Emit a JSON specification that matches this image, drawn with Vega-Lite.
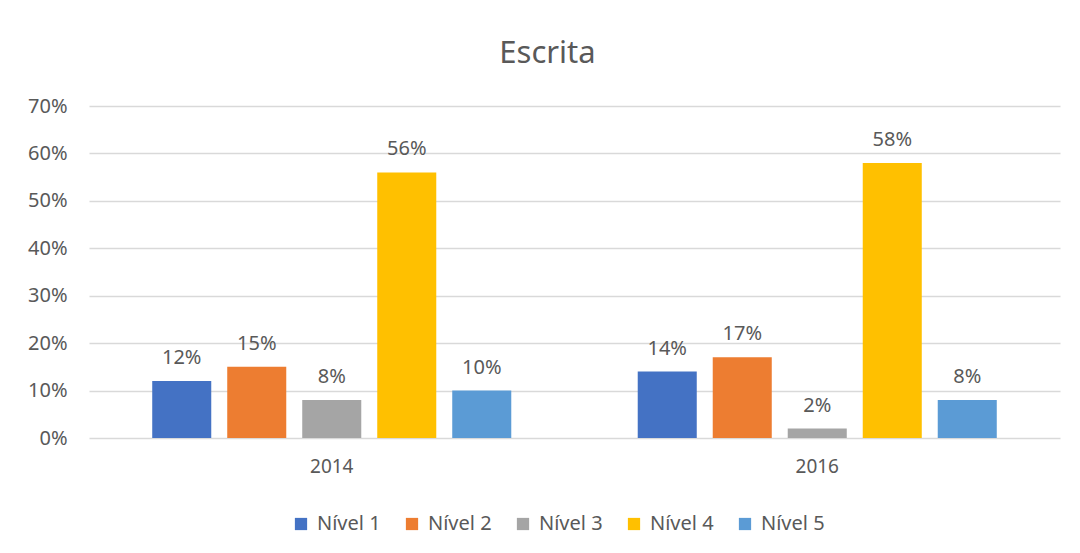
{
  "$schema": "https://vega.github.io/schema/vega-lite/v6.json",
  "autosize": "none",
  "width": 971,
  "height": 332,
  "padding": {"left": 89, "top": 106, "right": 20, "bottom": 115},
  "background": "white",
  "title": {
    "text": "Escrita",
    "font": "Noto Sans",
    "fontSize": 31,
    "fontWeight": "normal",
    "color": "#595959",
    "anchor": "middle",
    "dx": -27,
    "offset": 26
  },
  "data": {
    "values": [
      {"year": "2014", "level": "Nível 1", "value": 0.12},
      {"year": "2014", "level": "Nível 2", "value": 0.15},
      {"year": "2014", "level": "Nível 3", "value": 0.08},
      {"year": "2014", "level": "Nível 4", "value": 0.56},
      {"year": "2014", "level": "Nível 5", "value": 0.10},
      {"year": "2016", "level": "Nível 1", "value": 0.14},
      {"year": "2016", "level": "Nível 2", "value": 0.17},
      {"year": "2016", "level": "Nível 3", "value": 0.02},
      {"year": "2016", "level": "Nível 4", "value": 0.58},
      {"year": "2016", "level": "Nível 5", "value": 0.08}
    ]
  },
  "encoding": {
    "x": {
      "field": "year",
      "type": "nominal",
      "scale": {"paddingInner": 0, "paddingOuter": 0},
      "axis": {
        "title": null,
        "labelAngle": 0,
        "labelFont": "Noto Sans",
        "labelFontSize": 19,
        "labelColor": "#595959",
        "labelPadding": 19,
        "ticks": false,
        "domain": false
      }
    },
    "xOffset": {
      "field": "level",
      "type": "nominal",
      "scale": {"paddingInner": 0.213, "paddingOuter": 0.843}
    },
    "y": {
      "field": "value",
      "type": "quantitative",
      "scale": {"domain": [0, 0.7], "nice": false},
      "axis": {
        "title": null,
        "format": ".0%",
        "values": [0, 0.1, 0.2, 0.3, 0.4, 0.5, 0.6, 0.7],
        "labelFont": "Noto Sans",
        "labelFontSize": 20,
        "labelColor": "#595959",
        "labelPadding": 22,
        "ticks": false,
        "domain": false,
        "grid": true,
        "gridColor": "#d9d9d9",
        "gridWidth": 1.5
      }
    }
  },
  "layer": [
    {
      "mark": {"type": "bar"},
      "encoding": {
        "color": {
          "field": "level",
          "type": "nominal",
          "scale": {
            "domain": ["Nível 1", "Nível 2", "Nível 3", "Nível 4", "Nível 5"],
            "range": ["#4472C4", "#ED7D31", "#A5A5A5", "#FFC000", "#5B9BD5"]
          },
          "legend": {
            "title": null,
            "orient": "none",
            "direction": "horizontal",
            "legendX": 202,
            "legendY": 408,
            "symbolType": "square",
            "symbolSize": 150,
            "symbolStrokeWidth": 0,
            "labelFont": "Noto Sans",
            "labelFontSize": 20,
            "labelColor": "#595959",
            "labelOffset": 6,
            "columnPadding": 21
          }
        }
      }
    },
    {
      "mark": {
        "type": "text",
        "baseline": "bottom",
        "dy": -13,
        "font": "Noto Sans",
        "fontSize": 20,
        "color": "#595959"
      },
      "encoding": {
        "text": {"field": "value", "type": "quantitative", "format": ".0%"}
      }
    }
  ],
  "config": {
    "view": {"stroke": null}
  }
}
